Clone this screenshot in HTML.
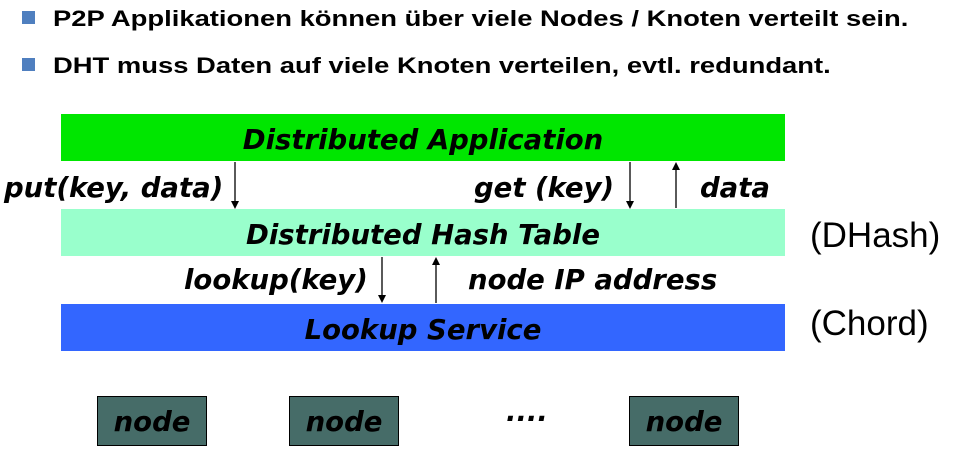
<!DOCTYPE html>
<html><head><meta charset="utf-8"><style>
body{margin:0;width:957px;height:450px;background:#fff;position:relative;overflow:hidden;font-family:"Liberation Sans",sans-serif}
.a{position:absolute}
.sq{position:absolute;width:13px;height:13px;background:#4f7fbf}
.bt{position:absolute;left:53px;font-weight:bold;font-size:22px;white-space:nowrap;color:#000;transform-origin:0 0;transform:scaleX(1.245)}
.bar{position:absolute;left:61px;width:724px;height:47px;text-align:center;line-height:52px}
.lb{font-family:"DejaVu Sans",sans-serif;font-weight:bold;font-style:italic;font-size:27.5px;color:#000;white-space:nowrap;position:absolute}
.node{position:absolute;top:396px;width:108px;height:48px;background:#466c68;border:1px solid #000;text-align:center;line-height:50px}
.par{position:absolute;font-size:35px;white-space:nowrap}
</style></head><body>
<div class="sq" style="left:22px;top:11px"></div>
<div class="bt" style="top:6px">P2P Applikationen können über viele Nodes / Knoten verteilt sein.</div>
<div class="sq" style="left:22px;top:58px"></div>
<div class="bt" style="top:53px">DHT muss Daten auf viele Knoten verteilen, evtl. redundant.</div>

<div class="bar" style="top:114px;background:#00e600"><span class="lb" style="position:static">Distributed Application</span></div>
<div class="bar" style="top:209px;background:#99ffcc"><span class="lb" style="position:static">Distributed Hash Table</span></div>
<div class="bar" style="top:304px;background:#3366ff"><span class="lb" style="position:static">Lookup Service</span></div>

<div class="lb" style="left:4px;top:172px">put(key, data)</div>
<div class="lb" style="left:474px;top:172px">get (key)</div>
<div class="lb" style="left:700px;top:172px">data</div>
<div class="lb" style="left:184px;top:264px">lookup(key)</div>
<div class="lb" style="left:468px;top:264px">node IP address</div>

<svg class="a" style="left:0;top:0" width="957" height="450">
<g stroke="#000" stroke-width="1.3">
<line x1="235" y1="162" x2="235" y2="203"/>
<line x1="630" y1="162" x2="630" y2="203"/>
<line x1="676" y1="208" x2="676" y2="168"/>
<line x1="382" y1="257" x2="382" y2="297"/>
<line x1="436" y1="303" x2="436" y2="263"/>
</g>
<g fill="#000">
<path d="M231,201 L239,201 L235,209 Z"/>
<path d="M626,201 L634,201 L630,209 Z"/>
<path d="M672,170 L680,170 L676,162 Z"/>
<path d="M378,295 L386,295 L382,303 Z"/>
<path d="M432,265 L440,265 L436,257 Z"/>
</g></svg>

<div class="par" style="left:810px;top:216px">(DHash)</div>
<div class="par" style="left:810px;top:304px">(Chord)</div>

<div class="node" style="left:97px"><span class="lb" style="position:static">node</span></div>
<div class="node" style="left:289px"><span class="lb" style="position:static">node</span></div>
<div class="lb" style="left:506px;top:396px">....</div>
<div class="node" style="left:629px"><span class="lb" style="position:static">node</span></div>
</body></html>
